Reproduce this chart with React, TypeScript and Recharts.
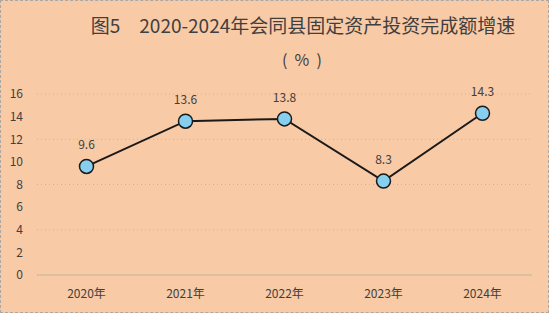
import { LineChart, Line, XAxis, YAxis, CartesianGrid, LabelList } from 'recharts';

const years = ['2020年', '2021年', '2022年', '2023年', '2024年'];
const growth = [9.6, 13.6, 13.8, 8.3, 14.3];
const yTicks = [0, 2, 4, 6, 8, 10, 12, 14, 16];

const data = years.map((year, i) => ({ year, growth: growth[i] }));

const font = '"Noto Sans CJK SC", "Microsoft YaHei", sans-serif';

export default function App() {
  return (
    <div
      style={{
        position: 'absolute',
        left: 0,
        top: 0,
        width: 549,
        height: 313,
        background: '#F9CAA6',
        fontFamily: font,
        boxSizing: 'border-box',
        border: '1px dashed #a8a8a8',
      }}
    >
      <div style={{ position: 'absolute', left: 0, width: 604, top: 10, textAlign: 'center', fontSize: 19, color: '#404040', whiteSpace: 'pre' }}>
        {'图5　2020-2024年会同县固定资产投资完成额增速'}
      </div>
      <div style={{ position: 'absolute', left: 0, width: 602, top: 46, textAlign: 'center', fontSize: 16, color: '#404040', whiteSpace: 'pre' }}>
        {'(  %  )'}
      </div>
      <div style={{ position: 'absolute', left: -1, top: -1 }}>
        <LineChart width={549} height={313} data={data} margin={{ top: 94, right: 17, bottom: 8, left: 0 }}>
          <CartesianGrid vertical={false} stroke="#F0A0A0" strokeDasharray="1 3" />
          <XAxis
            dataKey="year"
            padding={{ left: 49.5, right: 49.5 }}
            axisLine={{ stroke: '#C0B8A0' }}
            tickLine={false}
            tickSize={6}
            tickMargin={8}
            height={30}
            tick={{ fill: '#404040', fontSize: 12, fontFamily: font }}
          />
          <YAxis
            domain={[0, 16]}
            ticks={yTicks}
            width={37}
            axisLine={false}
            tickLine={false}
            tickSize={12}
            tickMargin={2}
            tick={{ fill: '#404040', fontSize: 12, fontFamily: font }}
          />
          <Line
            dataKey="growth"
            stroke="#1a1a1a"
            strokeWidth={2}
            dot={{ r: 7, fill: '#86CFEE', stroke: '#1a1a1a', strokeWidth: 1.5 }}
            isAnimationActive={false}
          >
            <LabelList dataKey="growth" position="top" offset={17} fill="#404040" fontSize={12} fontFamily={font} />
          </Line>
        </LineChart>
      </div>
    </div>
  );
}
